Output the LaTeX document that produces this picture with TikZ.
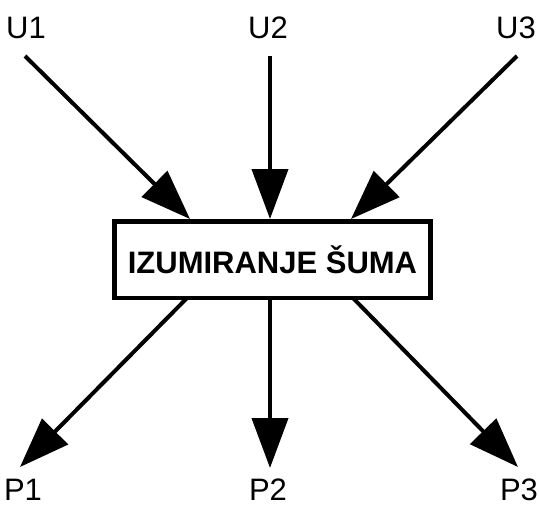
\documentclass[tikz,border=0pt]{standalone}
\usepackage{fontspec}
\setmainfont{Liberation Sans}
\usetikzlibrary{arrows.meta}
\usetikzlibrary{positioning}

\begin{document}
\begin{tikzpicture}[
    x=1pt, y=-1pt,
    every node/.style={inner sep=0pt, font=\fontsize{31}{31}\selectfont},
    block/.style={rectangle, draw, line width=4.5pt, minimum width=316pt, minimum height=76.5pt, font=\fontsize{31}{31}\selectfont\bfseries},
    flow/.style={line width=4pt, -{Triangle[length=50pt, width=36pt]}}
  ]
  \useasboundingbox (0,0) rectangle (539,507);

  % Nodes
  \node[block] (box) at (272.5,259.5) {IZUMIRANJE ŠUMA};
  \node (u1) at (26,28)   {U1};
  \node (u2) at (268,28)  {U2};
  \node (u3) at (516,28)  {U3};
  \node (p1) at (23,490)  {P1};
  \node (p2) at (268,490) {P2};
  \node (p3) at (519,490) {P3};

  % Free ends of the arrows
  \coordinate (s1) at (25,56);
  \coordinate (s2) at (270,56);
  \coordinate (s3) at (517,56);
  \coordinate (in1) at (190,219);
  \coordinate (in2) at (270,219);
  \coordinate (in3) at (351,219);
  \coordinate (out1) at (187,298);
  \coordinate (out2) at (270,298);
  \coordinate (out3) at (353,298);
  \coordinate (e1) at (20,467);
  \coordinate (e2) at (270,468);
  \coordinate (e3) at (518,467);

  % Inputs
  \draw[flow] (s1) -- (in1);
  \draw[flow] (s2) -- (in2);
  \draw[flow] (s3) -- (in3);

  % Outputs
  \draw[flow] (out1) -- (e1);
  \draw[flow] (out2) -- (e2);
  \draw[flow] (out3) -- (e3);

\end{tikzpicture}
\end{document}
